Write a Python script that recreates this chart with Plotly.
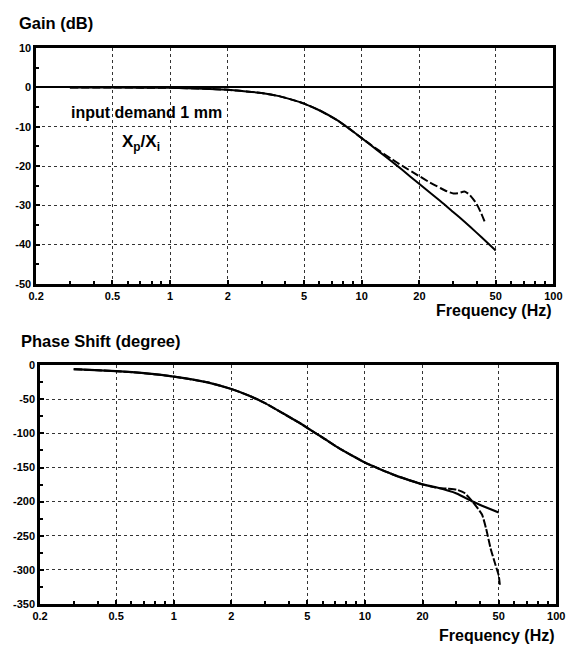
import math
import plotly.graph_objects as go

# ---------------- data ----------------
freq_gain_model = [0.3, 0.5, 1, 1.5, 2, 2.5, 3, 3.7, 4.67, 5, 6, 7.44, 8.5, 10, 12, 14.4, 16.2, 20, 25.7, 30, 34.4, 39.6, 45, 50]
gain_model = [0, 0, -0.1, -0.3, -0.6, -1.0, -1.4, -2.2, -3.6, -4.1, -5.8, -8.3, -10.3, -12.9, -15.9, -18.9, -20.9, -24.6, -28.9, -31.7, -34.2, -36.9, -39.4, -41.5]

freq_gain_meas = [0.3, 0.5, 1, 1.5, 2, 2.5, 3, 3.7, 4.67, 5, 6, 7.44, 8.5, 10, 12, 14.4, 16.2, 20, 22.5, 25.7, 28, 30.1, 32, 34.4, 36.5, 39.6, 42, 44]
gain_meas = [0, 0, -0.1, -0.3, -0.6, -1.0, -1.4, -2.2, -3.6, -4.1, -5.8, -8.3, -10.3, -12.9, -15.7, -18.3, -19.9, -22.6, -24.1, -25.6, -26.5, -27.0, -26.9, -26.5, -27.3, -29.5, -32.0, -34.4]

freq_phase_model = [0.3, 0.5, 0.7, 1, 1.5, 2, 2.5, 3, 3.7, 4.67, 5, 6, 7.16, 8.5, 10, 12, 14.4, 17, 20, 23.5, 30.1, 36.5, 40.9, 50]
phase_model = [-5.7, -8.6, -11.5, -16.6, -25, -34.7, -45, -55.5, -70, -86.5, -92, -106, -120, -132, -142.7, -152.5, -161.5, -168.5, -174.7, -179, -188, -200, -206, -216]

freq_phase_meas = [0.3, 0.5, 0.7, 1, 1.5, 2, 2.5, 3, 3.7, 4.67, 5, 6, 7.16, 8.5, 10, 12, 14.4, 17, 20, 23.5, 27, 30.1, 33, 36.5, 40.9, 43, 45.4, 48, 50, 50.7]
phase_meas = [-5.7, -8.6, -11.5, -16.6, -25, -34.7, -45, -55.5, -70, -86.5, -92, -106, -120, -132, -142.7, -152.5, -161.5, -168.5, -174.7, -179.5, -181, -182.5, -187, -200, -219, -240, -269, -292, -308, -322]

x_tick_vals = [0.2, 0.5, 1, 2, 5, 10, 20, 50, 100]
x_tick_text = ["0.2", "0.5", "1", "2", "5", "10", "20", "50", "100"]
x_minor_vals = [0.3, 0.4, 0.6, 0.7, 0.8, 0.9, 3, 4, 6, 7, 8, 9, 30, 40, 60, 70, 80, 90]

gain_tick_vals = [10, 0, -10, -20, -30, -40, -50]
gain_tick_text = ["10", "0", "-10", "-20", "-30", "-40", "-50"]
gain_minor_vals = [5, -5, -15, -25, -35, -45]

phase_tick_vals = [0, -50, -100, -150, -200, -250, -300, -350]
phase_tick_text = ["0", "-50", "-100", "-150", "-200", "-250", "-300", "-350"]
phase_minor_vals = [-25, -75, -125, -175, -225, -275, -325]

# ---------------- figure ----------------
W, H = 574, 655
FONT = "Liberation Sans, Arial, sans-serif"

fig = go.Figure()
fig.add_trace(go.Scatter(x=freq_gain_model, y=gain_model, mode="lines",
                         line=dict(color="black", width=2, shape="spline", smoothing=0.5),
                         xaxis="x", yaxis="y"))
fig.add_trace(go.Scatter(x=freq_gain_meas, y=gain_meas, mode="lines",
                         line=dict(color="black", width=2, dash="8px,3px", shape="spline", smoothing=0.5),
                         xaxis="x", yaxis="y"))
fig.add_trace(go.Scatter(x=freq_phase_model, y=phase_model, mode="lines",
                         line=dict(color="black", width=2.2, shape="spline", smoothing=0.5),
                         xaxis="x2", yaxis="y2"))
fig.add_trace(go.Scatter(x=freq_phase_meas, y=phase_meas, mode="lines",
                         line=dict(color="black", width=2, dash="8px,2px", shape="spline", smoothing=0.5),
                         xaxis="x2", yaxis="y2"))

tickfont = dict(family=FONT, size=11, color="black", weight="bold")
grid = dict(showgrid=True, gridcolor="#333", griddash="dot", gridwidth=1)
frame = dict(showline=True, linecolor="black", linewidth=2.5, mirror=True)


def xax(domain, anchor):
    return dict(type="log", range=[math.log10(0.2), 2], domain=domain, anchor=anchor,
                tickmode="array", tickvals=x_tick_vals, ticktext=x_tick_text,
                ticks="inside", ticklen=4, tickcolor="black", tickwidth=1.5,
                tickfont=tickfont, zeroline=False,
                minor=dict(tickvals=x_minor_vals, ticks="inside", ticklen=3,
                           tickcolor="black", tickwidth=1.5, showgrid=False),
                **grid, **frame)


def yax(domain, anchor, rng, tv, tt, mv, zero):
    return dict(range=rng, domain=domain, anchor=anchor,
                tickmode="array", tickvals=tv, ticktext=tt,
                ticks="inside", ticklen=4, tickcolor="black", tickwidth=1.5,
                tickfont=tickfont,
                zeroline=zero, zerolinecolor="black", zerolinewidth=2.2,
                minor=dict(tickvals=mv, ticks="inside", ticklen=3,
                           tickcolor="black", tickwidth=1.5, showgrid=False),
                **grid, **frame)


fig.update_layout(
    width=W, height=H,
    margin=dict(l=0, r=0, t=0, b=0),
    paper_bgcolor="white", plot_bgcolor="white",
    showlegend=False,
    xaxis=xax([29 / W, 562 / W], "y"),
    yaxis=yax([1 - 283 / H, 1 - 43 / H], "x", [-50, 10], gain_tick_vals, gain_tick_text, gain_minor_vals, True),
    xaxis2=xax([33 / W, 565 / W], "y2"),
    yaxis2=yax([1 - 609 / H, 1 - 366 / H], "x2", [-350, 0], phase_tick_vals, phase_tick_text, phase_minor_vals, False),
)


def ann(text, px, py, xanchor, size):
    fig.add_annotation(text=text, xref="paper", yref="paper", x=px / W, y=1 - py / H,
                       xanchor=xanchor, yanchor="middle", showarrow=False,
                       font=dict(family=FONT, size=size, color="black", weight="bold"))


ann("Gain (dB)", 9, 17, "left", 16.5)
ann("Frequency (Hz)", 563, 310, "right", 16)
ann("Phase Shift (degree)", 11, 341, "left", 16.5)
ann("Frequency (Hz)", 566, 641, "right", 16)
ann("input demand 1 mm", 143, 108, "center", 16)
ann("X<sub>p</sub>/X<sub>i</sub>", 137, 140, "center", 17)

fig.write_html("out.html")
